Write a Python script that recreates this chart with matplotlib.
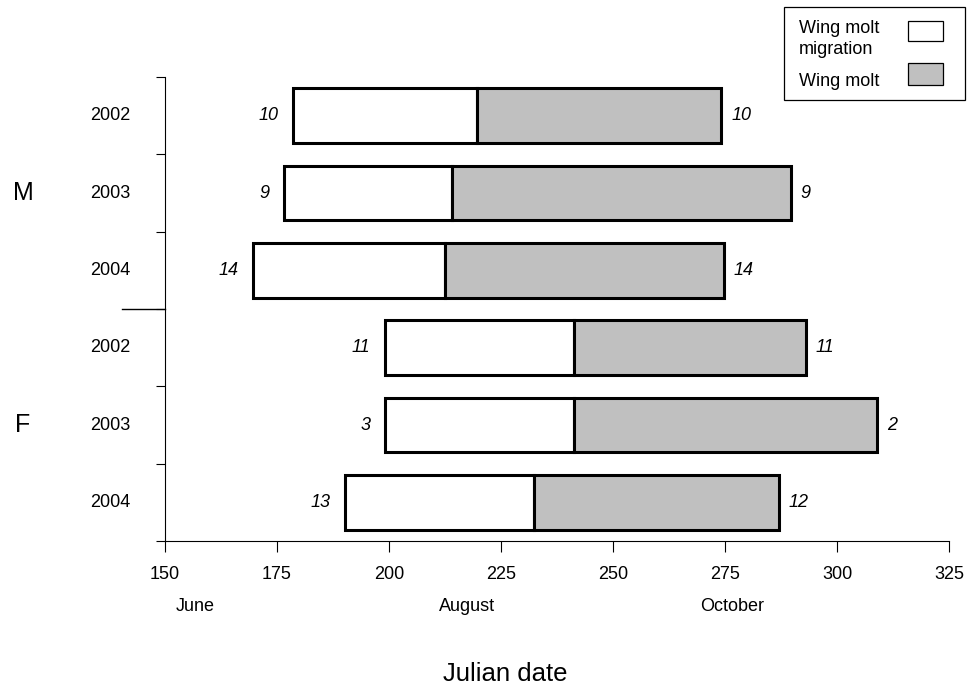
import matplotlib
matplotlib.use('Agg')
import matplotlib.pyplot as plt
from matplotlib.patches import Rectangle
from matplotlib.lines import Line2D

plt.rcParams['font.family'] = ['Liberation Sans', 'DejaVu Sans']

# Data (Julian dates)
sexes = ['M', 'M', 'M', 'F', 'F', 'F']
years = ['2002', '2003', '2004', '2002', '2003', '2004']
migration_start = [178.6, 176.6, 169.7, 199.1, 199.1, 190.2]
molt_start = [219.6, 214.1, 212.6, 241.3, 241.3, 232.4]
molt_end = [274.2, 289.7, 274.8, 293.1, 308.9, 287.0]
n_left = ['10', '9', '14', '11', '3', '13']
n_right = ['10', '9', '14', '11', '2', '12']
month_names = ['June', 'August', 'October']
month_pos = [156.8, 217.4, 276.7]

fig = plt.figure(figsize=(9.69, 6.85), dpi=100)
W, H = 969, 685
ax = fig.add_axes([165 / W, 1 - 541 / H, (949 - 165) / W, (541 - 77) / H])

rows = [5.5 - i for i in range(len(years))]
widths_mig = [b - a for a, b in zip(migration_start, molt_start)]
widths_molt = [b - a for a, b in zip(molt_start, molt_end)]

ax.barh(rows, widths_mig, left=migration_start, height=0.71,
        color='white', edgecolor='black', linewidth=2.2, zorder=3)
ax.barh(rows, widths_molt, left=molt_start, height=0.71,
        color='#c0c0c0', edgecolor='black', linewidth=2.2, zorder=3)

for y, s, e, nl, nr in zip(rows, migration_start, molt_end, n_left, n_right):
    ax.text(s - 3.2, y, nl, ha='right', va='center', style='italic', fontsize=13)
    ax.text(e + 2.2, y, nr, ha='left', va='center', style='italic', fontsize=13)

ax.set_xlim(150, 325)
ax.set_ylim(0, 6)
ax.set_xticks(range(150, 326, 25))
ax.set_yticks(range(0, 7))
ax.set_yticklabels([])
ax.tick_params(axis='x', direction='out', length=7.7, width=0.8, labelsize=13, pad=10)
ax.tick_params(axis='y', direction='out', length=6.5, width=0.8)
for side in ['top', 'right']:
    ax.spines[side].set_visible(False)
for side in ['left', 'bottom']:
    ax.spines[side].set_linewidth(0.8)

# year labels and sex groups
ytr = ax.get_yaxis_transform()
for y, yr in zip(rows, years):
    ax.text(-0.044, y, yr, transform=ytr, ha='right', va='center', fontsize=13)
ax.text(-0.181, 4.5, 'M', transform=ytr, ha='center', va='center', fontsize=18)
ax.text(-0.181, 1.5, 'F', transform=ytr, ha='center', va='center', fontsize=18)
ax.add_line(Line2D([-0.055, 0], [3, 3], transform=ytr, color='black', lw=1.0, clip_on=False))

# month labels
for m, p in zip(month_names, month_pos):
    ax.text(p, -0.151, m, transform=ax.get_xaxis_transform(), ha='center', va='baseline', fontsize=13)

fig.text(505 / W, 1 - 681 / H, 'Julian date', ha='center', va='baseline', fontsize=18.5)

# legend box
fig.add_artist(Rectangle((784 / W, 1 - 100 / H), (965 - 784) / W, (100 - 7) / H,
                         transform=fig.transFigure, facecolor='white', edgecolor='black', lw=0.9))
fig.text(799 / W, 1 - 32.7 / H, 'Wing molt', ha='left', va='baseline', fontsize=13)
fig.text(799 / W, 1 - 53.5 / H, 'migration', ha='left', va='baseline', fontsize=13)
fig.text(799 / W, 1 - 86 / H, 'Wing molt', ha='left', va='baseline', fontsize=13)
fig.add_artist(Rectangle((908 / W, 1 - 41 / H), 35 / W, 20 / H,
                         transform=fig.transFigure, facecolor='white', edgecolor='black', lw=0.9))
fig.add_artist(Rectangle((908 / W, 1 - 85 / H), 35 / W, 22 / H,
                         transform=fig.transFigure, facecolor='#c0c0c0', edgecolor='black', lw=0.9))

fig.savefig('out.png', dpi=100)
